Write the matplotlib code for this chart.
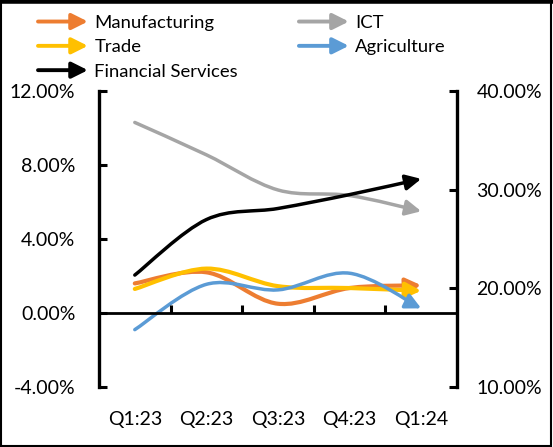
import matplotlib
matplotlib.use("Agg")
import matplotlib.pyplot as plt
from matplotlib.path import Path
from matplotlib.patches import FancyArrowPatch, Rectangle
from matplotlib.legend_handler import HandlerBase
from matplotlib.lines import Line2D
from matplotlib.ticker import FuncFormatter

plt.rcParams['font.family'] = ['Lato', 'DejaVu Sans']

quarters = ['Q1:23', 'Q2:23', 'Q3:23', 'Q4:23', 'Q1:24']
manufacturing = [1.60, 2.20, 0.50, 1.35, 1.50]
trade = [1.30, 2.40, 1.45, 1.35, 1.20]
financial = [2.05, 5.05, 5.65, 6.40, 7.25]
ict = [10.30, 8.55, 6.65, 6.35, 5.50]
agriculture = [-0.90, 1.55, 1.25, 2.15, 0.25]

colors = {'Manufacturing': '#ED7D31', 'ICT': '#A5A5A5', 'Trade': '#FFC000',
          'Agriculture': '#5B9BD5', 'Financial Services': '#000000'}


def smooth_path(vals):
    # excel-like smoothed line: cubic bezier through each point
    pts = list(enumerate(vals))
    n = len(pts)
    verts = [pts[0]]
    codes = [Path.MOVETO]
    for i in range(n - 1):
        p_prev = pts[max(i - 1, 0)]
        p0 = pts[i]
        p1 = pts[i + 1]
        p_next = pts[min(i + 2, n - 1)]
        c1 = (p0[0] + (p1[0] - p_prev[0]) / 6, p0[1] + (p1[1] - p_prev[1]) / 6)
        c2 = (p1[0] - (p_next[0] - p0[0]) / 6, p1[1] - (p_next[1] - p0[1]) / 6)
        verts += [c1, c2, p1]
        codes += [Path.CURVE4] * 3
    return Path(verts, codes)


class ArrowHandler(HandlerBase):
    def create_artists(self, legend, orig, xdescent, ydescent, width, height,
                       fontsize, trans):
        y = height / 2 - ydescent
        a = FancyArrowPatch((-xdescent, y), (-xdescent + width, y),
                            arrowstyle='-|>,head_length=0.4,head_width=0.2',
                            mutation_scale=24, color=orig.get_color(), lw=2.8,
                            shrinkA=0, shrinkB=0)
        a.set_transform(trans)
        return [a]


fig = plt.figure(figsize=(5.53, 4.47), dpi=100)
ax = fig.add_axes([99 / 553, 60 / 447, 358 / 553, 296 / 447])
ax2 = ax.twinx()

series = [('ICT', ict, 2.5), ('Financial Services', financial, 2.5),
          ('Manufacturing', manufacturing, 3.0), ('Trade', trade, 3.0),
          ('Agriculture', agriculture, 2.5)]
for name, vals, lw in series:
    arr = FancyArrowPatch(path=smooth_path(vals),
                          arrowstyle='-|>,head_length=0.4,head_width=0.2',
                          mutation_scale=23, color=colors[name], lw=lw)
    ax.add_patch(arr)

ax.set_xlim(-0.5, 4.5)
ax.set_ylim(-4, 12)
ax2.set_ylim(10, 40)
ax.set_yticks([-4, 0, 4, 8, 12])
ax2.set_yticks([10, 20, 30, 40])
pct = FuncFormatter(lambda v, p: '%.2f%%' % v)
ax.yaxis.set_major_formatter(pct)
ax2.yaxis.set_major_formatter(pct)

ax.set_xticks(range(len(quarters)))
ax.set_xticklabels(quarters)
ax.set_xticks([0.5, 1.5, 2.5, 3.5], minor=True)
ax.tick_params(axis='x', which='major', length=0, pad=17, labelsize=14)
ax.tick_params(axis='x', which='minor', top=True, bottom=False, direction='out',
               length=6, width=2.2)
ax.tick_params(axis='y', direction='in', length=6, width=2.2, pad=17,
               labelsize=14)
ax2.tick_params(axis='y', direction='in', length=6, width=2.2, pad=14,
                labelsize=14)

for a in (ax, ax2):
    for s in a.spines.values():
        s.set_visible(False)
ax.spines['left'].set_visible(True)
ax.spines['left'].set_linewidth(2.4)
ax.spines['top'].set_visible(True)
ax.spines['top'].set_position(('data', 0))
ax.spines['top'].set_linewidth(2.0)
ax2.spines['right'].set_visible(True)
ax2.spines['right'].set_linewidth(2.4)
ax.patch.set_visible(False)

order = ['Manufacturing', 'Trade', 'Financial Services', 'ICT', 'Agriculture']
handles = [Line2D([], [], color=colors[n]) for n in order]
fig.legend(handles, order, handler_map={Line2D: ArrowHandler()}, ncol=2,
           loc='upper left', bbox_to_anchor=(38 / 553, 1 - 15 / 447),
           frameon=False, fontsize=13.3, handlelength=2.7, handletextpad=0.35,
           columnspacing=3.3, labelspacing=0.45, borderpad=0, borderaxespad=0)

# outer chart border
fig.add_artist(Rectangle((0.002, 0.003), 0.994, 0.994, transform=fig.transFigure,
                         fill=False, ec='black', lw=1.5))
fig.add_artist(Line2D([0, 1], [0.997, 0.997], transform=fig.transFigure,
                      color='black', lw=4))

fig.savefig('out.png', dpi=100)
